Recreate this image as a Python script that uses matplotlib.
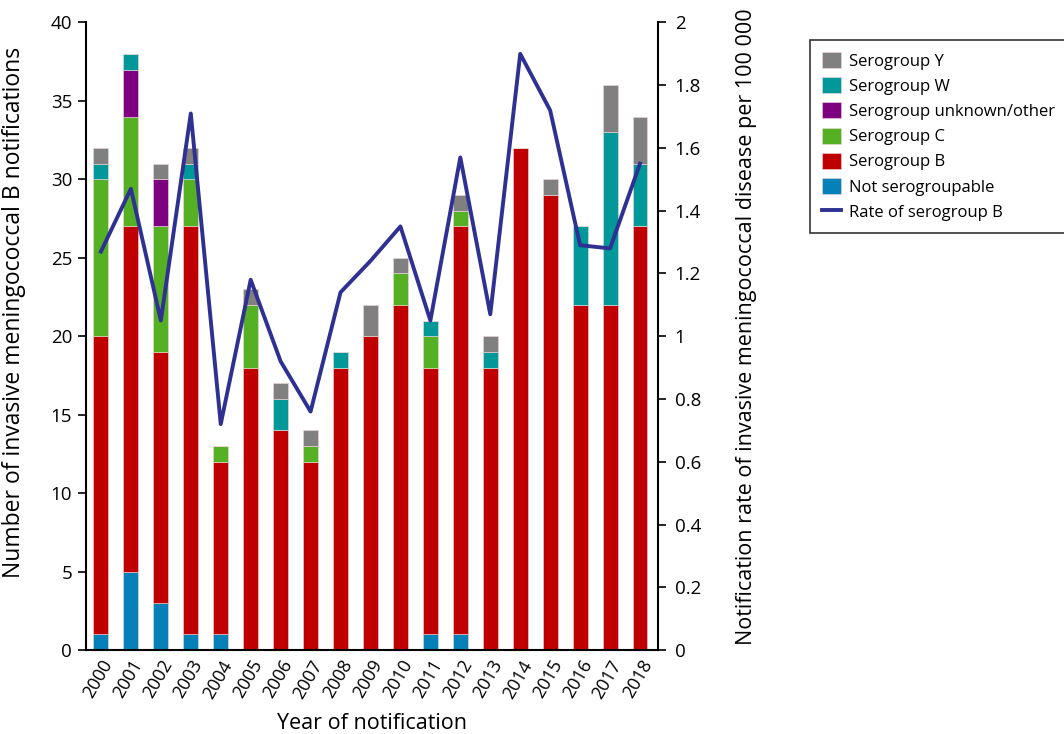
import matplotlib.pyplot as plt
import numpy as np

plt.rcParams['font.family'] = ['Open Sans', 'DejaVu Sans']

# 数据
years = [str(y) for y in range(2000, 2019)]
not_sg = [1, 5, 3, 1, 1, 0, 0, 0, 0, 0, 0, 1, 1, 0, 0, 0, 0, 0, 0]
sg_b = [19, 22, 16, 26, 11, 18, 14, 12, 18, 20, 22, 17, 26, 18, 32, 29, 22, 22, 27]
sg_c = [10, 7, 8, 3, 1, 4, 0, 1, 0, 0, 2, 2, 1, 0, 0, 0, 0, 0, 0]
sg_unknown = [0, 3, 3, 0, 0, 0, 0, 0, 0, 0, 0, 0, 0, 0, 0, 0, 0, 0, 0]
sg_w = [1, 1, 0, 1, 0, 0, 2, 0, 1, 0, 0, 1, 0, 1, 0, 0, 5, 11, 4]
sg_y = [1, 0, 1, 1, 0, 1, 1, 1, 0, 2, 1, 0, 1, 1, 0, 1, 0, 3, 3]
rate_b = [1.27, 1.47, 1.05, 1.71, 0.72, 1.18, 0.92, 0.76, 1.14, 1.24, 1.35,
          1.05, 1.57, 1.07, 1.90, 1.72, 1.29, 1.28, 1.55]

series = [
    ('Not serogroupable', not_sg, '#0580b9'),
    ('Serogroup B', sg_b, '#c00000'),
    ('Serogroup C', sg_c, '#56b024'),
    ('Serogroup unknown/other', sg_unknown, '#7d0080'),
    ('Serogroup W', sg_w, '#009898'),
    ('Serogroup Y', sg_y, '#808080'),
]

fig = plt.figure(figsize=(10.64, 7.34), dpi=100)
ax = fig.add_axes([0.0808, 0.1144, 0.5376, 0.855])
x = np.arange(len(years))
bottom = np.zeros(len(years))
handles = []
for name, vals, col in series:
    h = ax.bar(x, vals, width=0.5, bottom=bottom, color=col,
               edgecolor='#f0d8d8', linewidth=0.4, label=name)
    bottom += np.array(vals)
    handles.append(h)

ax.set_xlim(-0.5, 18.6)
ax.set_ylim(0, 40)
ax.set_yticks(range(0, 41, 5))
ax.set_xticks(x)
ax.set_xticklabels(years, rotation=60, ha='right', rotation_mode='anchor')
ax.tick_params(axis='x', length=0, labelsize=13, pad=5)
ax.tick_params(axis='y', labelsize=13.5, direction='out', length=6, width=1.2, pad=4)
ax.spines['top'].set_visible(False)
ax.spines['right'].set_visible(False)
for s in ['left', 'bottom']:
    ax.spines[s].set_linewidth(1.5)
ax.set_ylabel('Number of invasive meningococcal B notifications', fontsize=16.5)
ax.yaxis.set_label_coords(-0.104, 0.538)
ax.set_xlabel('Year of notification', fontsize=15.5, labelpad=8)

ax2 = ax.twinx()
line, = ax2.plot(x, rate_b, color='#2e3192', linewidth=2.8, label='Rate of serogroup B')
ax2.set_ylim(0, 2)
ax2.set_yticks([0, 0.2, 0.4, 0.6, 0.8, 1, 1.2, 1.4, 1.6, 1.8, 2])
ax2.set_yticklabels(['0', '0.2', '0.4', '0.6', '0.8', '1', '1.2', '1.4', '1.6', '1.8', '2'])
ax2.tick_params(axis='y', labelsize=13.5, direction='out', length=6, width=1.2, pad=6)
ax2.spines['top'].set_visible(False)
ax2.spines['left'].set_visible(False)
ax2.spines['bottom'].set_visible(False)
ax2.spines['right'].set_linewidth(1.5)
ax2.set_ylabel('Notification rate of invasive meningococcal disease per 100 000',
               fontsize=15.5)
ax2.yaxis.set_label_coords(1.136, 0.515)

leg_handles = handles[::-1] + [line]
leg = fig.legend(leg_handles, [h.get_label() for h in leg_handles],
                 loc='upper left', bbox_to_anchor=(0.761, 0.946),
                 fontsize=12, frameon=True, fancybox=False, edgecolor='black',
                 handlelength=1.1, handleheight=1.1, handletextpad=0.5,
                 labelspacing=0.45, borderpad=0.75, borderaxespad=0)
leg.get_frame().set_linewidth(1.2)

plt.savefig('out.png', dpi=100)
